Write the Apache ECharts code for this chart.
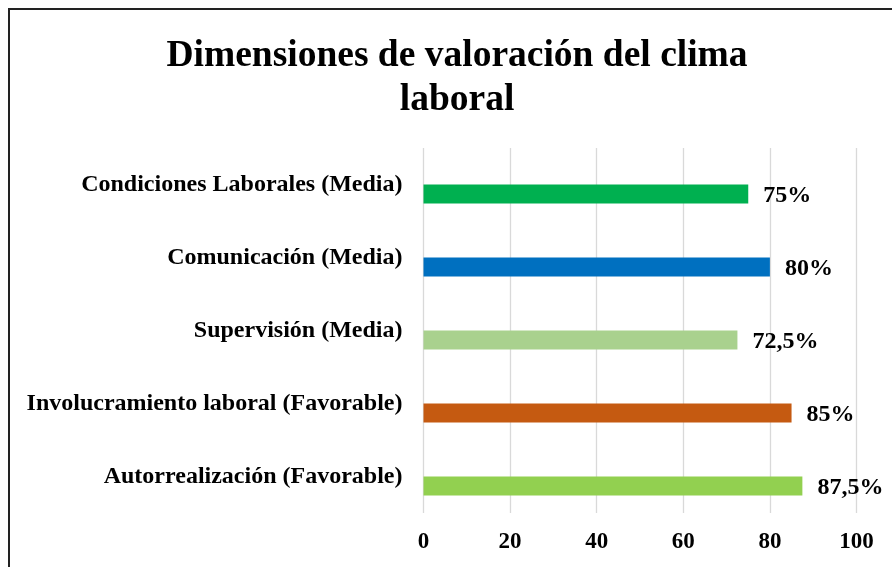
<!DOCTYPE html>
<html>
<head>
<meta charset="utf-8">
<script src="https://cdn.jsdelivr.net/npm/echarts@6/dist/echarts.min.js"></script>
<style>
  html, body { margin: 0; padding: 0; background: #fff; }
  #frame { position: absolute; left: 8px; top: 8px; width: 900px; height: 580px; border: 2px solid #222; box-sizing: border-box; }
  #chart { position: absolute; left: 0; top: 0; width: 892px; height: 567px; }
</style>
</head>
<body>
<div id="frame"></div>
<div id="chart"></div>
<script>
// categorias de abajo hacia arriba
var categorias = ['Autorrealización (Favorable)', 'Involucramiento laboral (Favorable)', 'Supervisión (Media)', 'Comunicación (Media)', 'Condiciones Laborales (Media)'];
var valores = [87.5, 85, 72.5, 80, 75];
var colores = ['#92D050', '#C55A11', '#A9D18E', '#0070C0', '#00B050'];
var ticks = [0, 20, 40, 60, 80, 100];

var fuente = '"Liberation Serif", "Times New Roman", serif';

var chart = echarts.init(document.getElementById('chart'));
var option = {
    animation: false,
    title: {
        text: 'Dimensiones de valoración del clima\nlaboral',
        left: 452,
        top: 29,
        textAlign: 'center',
        textStyle: {
            fontFamily: fuente,
            fontWeight: 'bold',
            fontSize: 37.5,
            lineHeight: 44,
            color: '#000'
        }
    },
    grid: {
        left: 423.5,
        right: 35.5,
        top: 148,
        bottom: 54
    },
    xAxis: {
        type: 'value',
        min: ticks[0],
        max: ticks[ticks.length - 1],
        interval: 20,
        axisLine: { show: false },
        axisTick: { show: false },
        splitLine: { lineStyle: { color: '#d9d9d9', width: 1.3 } },
        axisLabel: {
            margin: 18,
            fontFamily: fuente,
            fontWeight: 'bold',
            fontSize: 23,
            color: '#000'
        }
    },
    yAxis: {
        type: 'category',
        data: categorias,
        axisLine: { show: false },
        axisTick: { show: false },
        splitLine: { show: false },
        axisLabel: {
            margin: 21,
            fontFamily: fuente,
            fontWeight: 'bold',
            fontSize: 24,
            color: '#000'
        }
    },
    series: [
        {
            // serie vacia: deja el hueco sobre cada barra
            type: 'bar',
            barWidth: 19,
            barGap: '0%',
            data: []
        },
        {
            type: 'bar',
            barWidth: 19,
            barGap: '0%',
            data: valores.map(function (v, i) {
                return { value: v, itemStyle: { color: colores[i] } };
            }),
            label: {
                show: true,
                position: 'right',
                distance: 15,
                offset: [0, 2],
                fontFamily: fuente,
                fontWeight: 'bold',
                fontSize: 24,
                color: '#000',
                formatter: function (p) {
                    return String(p.value).replace('.', ',') + '%';
                }
            }
        }
    ]
};
chart.setOption(option);
</script>
</body>
</html>
